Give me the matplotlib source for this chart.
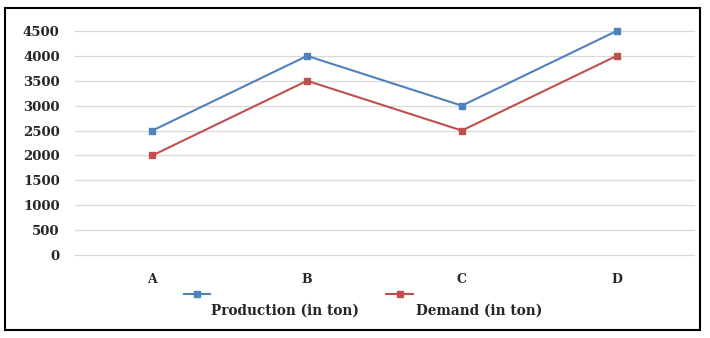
import matplotlib
matplotlib.use("Agg")
import matplotlib.pyplot as plt
from matplotlib.lines import Line2D
from matplotlib.patches import Rectangle

categories = ["A", "B", "C", "D"]
production = [2500, 4000, 3000, 4500]
demand = [2000, 3500, 2500, 4000]
yticks = [0, 500, 1000, 1500, 2000, 2500, 3000, 3500, 4000, 4500]
labels = ["Production (in ton)", "Demand (in ton)"]

blue = "#4F81BD"
red = "#C0504D"
txt = "#262626"

plt.rcParams['font.family'] = ['DejaVu Serif']

fig = plt.figure(figsize=(7.1, 3.38), dpi=100)
fig.patch.set_facecolor("white")
ax = fig.add_axes([75/710, 83/338, (694-75)/710, (255-31)/338])

x = list(range(len(categories)))
ax.plot(x, production, color=blue, lw=1.5, marker='s', ms=4, clip_on=False, zorder=3)
ax.plot(x, demand, color=red, lw=1.5, marker='s', ms=4, clip_on=False, zorder=3)

ax.set_xlim(-0.5, 3.5)
ax.set_ylim(0, 4500)
ax.set_yticks(yticks)
ax.set_yticklabels([str(v) for v in yticks], fontsize=9.5, fontweight='bold', color=txt)
ax.set_xticks(x)
ax.set_xticklabels(categories, fontsize=9, fontweight='bold', color=txt)
ax.tick_params(length=0)
ax.tick_params(axis='y', pad=11)
ax.tick_params(axis='x', pad=13)
ax.grid(axis='y', color='#D9D9D9', lw=0.9)
for gl in ax.get_ygridlines():
    gl.set_clip_on(False)
ax.set_axisbelow(True)
for s in ax.spines.values():
    s.set_visible(False)

# legend (Excel style)
H = 338
ym = (H - 294) / H
fig.add_artist(Line2D([184/710, 210/710], [ym, ym], color=blue, lw=1.5))
fig.add_artist(Line2D([197/710], [ym], color=blue, marker='s', ms=4, lw=0))
fig.add_artist(Line2D([386/710, 413/710], [ym, ym], color=red, lw=1.5))
fig.add_artist(Line2D([400/710], [ym], color=red, marker='s', ms=4, lw=0))
fig.text(285/710, (H-311)/H, labels[0], ha='center', va='center', fontsize=9.8, fontweight='bold', color=txt)
fig.text(479/710, (H-311)/H, labels[1], ha='center', va='center', fontsize=9.8, fontweight='bold', color=txt)

# outer border
fig.add_artist(Rectangle((5/710, 8/338), 695/710, 322/338, transform=fig.transFigure,
                         fill=False, edgecolor='black', lw=1.5))

fig.savefig("out.png", dpi=100)
